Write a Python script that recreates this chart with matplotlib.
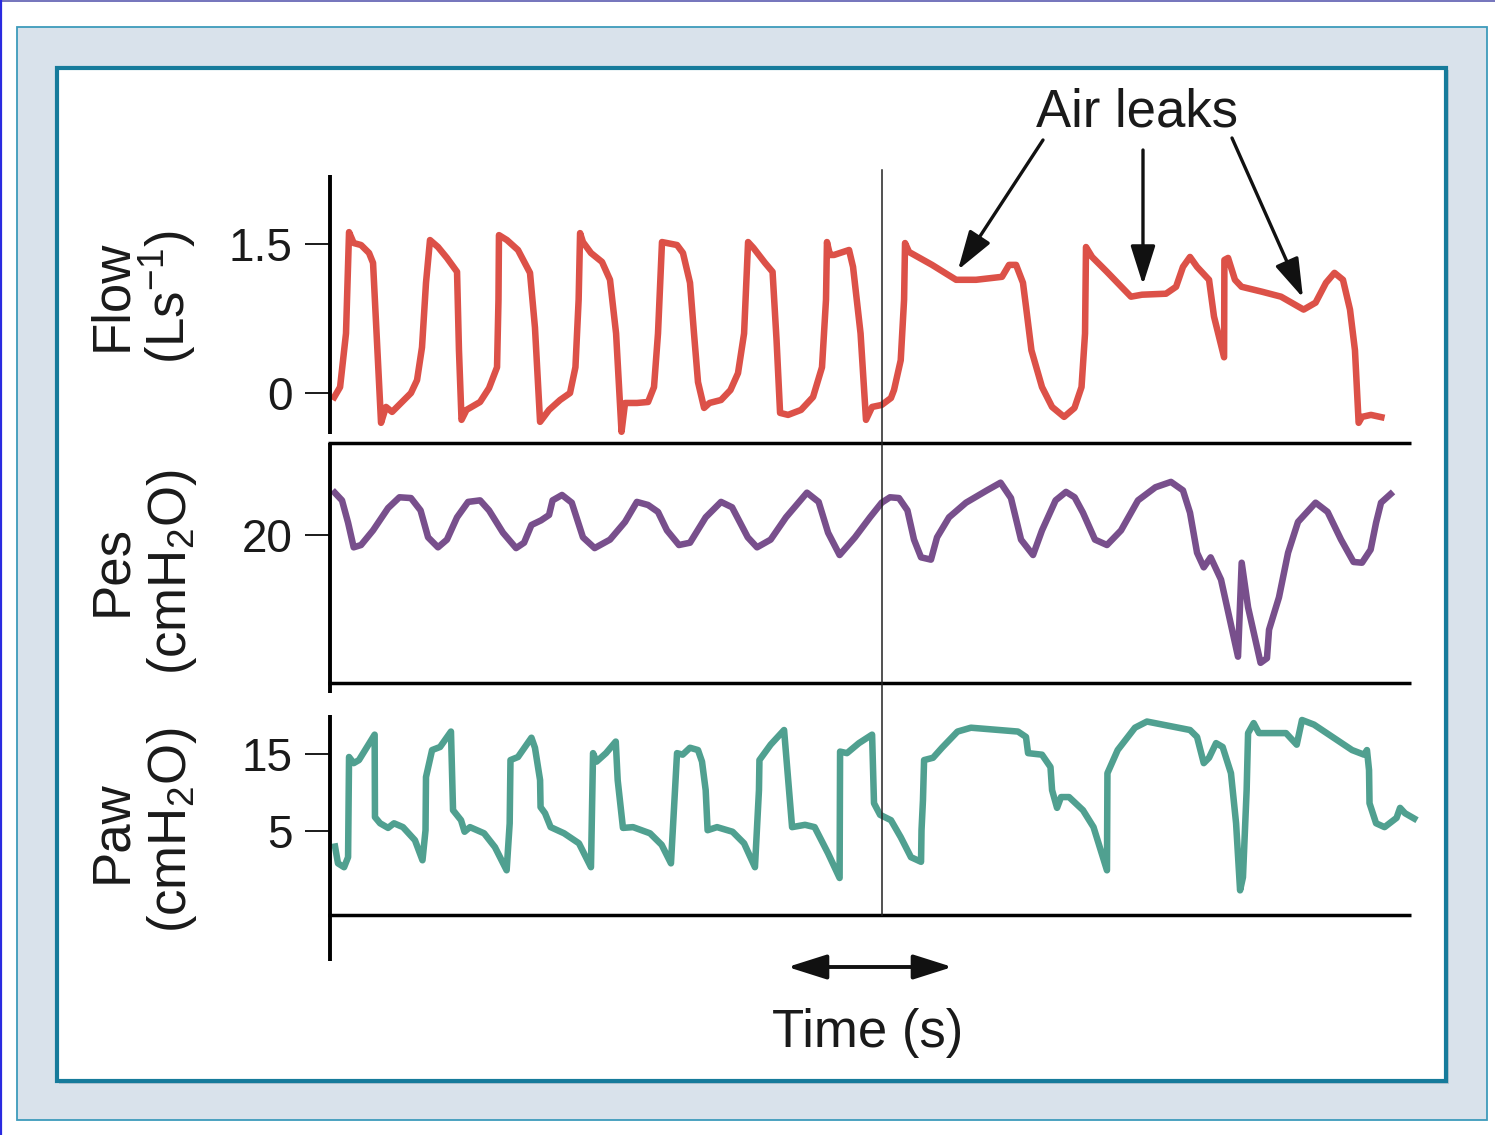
import matplotlib
matplotlib.use('Agg')
import matplotlib.pyplot as plt
from matplotlib.lines import Line2D
from matplotlib.patches import Rectangle
import matplotlib.transforms as mtransforms

plt.rcParams['font.family'] = ['Liberation Sans', 'DejaVu Sans']
plt.rcParams['mathtext.fontset'] = 'custom'
plt.rcParams['mathtext.rm'] = 'Liberation Sans'
plt.rcParams['mathtext.it'] = 'Liberation Sans:italic'
plt.rcParams['mathtext.bf'] = 'Liberation Sans:bold'
plt.rcParams['mathtext.default'] = 'regular'

# ---------------- data (time in s) ----------------
flow_t = [0.016, 0.063, 0.100, 0.119, 0.148, 0.194, 0.244, 0.269, 0.291, 0.319, 0.350, 0.388, 0.444, 0.506,
          0.544, 0.575, 0.600, 0.625, 0.675, 0.731, 0.794, 0.806, 0.822, 0.853, 0.938, 0.994, 1.044, 1.053,
          1.056, 1.106, 1.175, 1.250, 1.281, 1.313, 1.369, 1.438, 1.500, 1.534, 1.554, 1.563, 1.581, 1.631,
          1.700, 1.750, 1.788, 1.822, 1.844, 1.919, 1.988, 2.025, 2.050, 2.075, 2.106, 2.169, 2.206, 2.250,
          2.275, 2.300, 2.338, 2.372, 2.444, 2.503, 2.550, 2.588, 2.606, 2.613, 2.647, 2.719, 2.766, 2.791,
          2.813, 2.863, 2.944, 3.019, 3.075, 3.100, 3.106, 3.125, 3.150, 3.244, 3.269, 3.316, 3.350, 3.388,
          3.448, 3.506, 3.525, 3.567, 3.588, 3.594, 3.619, 3.763, 3.913, 4.038, 4.200, 4.244, 4.288, 4.331,
          4.350, 4.384, 4.450, 4.513, 4.588, 4.653, 4.697, 4.719, 4.725, 4.763, 4.856, 5.006, 5.075, 5.225,
          5.288, 5.331, 5.375, 5.419, 5.494, 5.525, 5.588, 5.590, 5.613, 5.656, 5.697, 5.825, 5.944, 6.085,
          6.160, 6.225, 6.278, 6.331, 6.375, 6.406, 6.429, 6.450, 6.506, 6.591]
flow_v = [-0.07, 0.06, 0.60, 1.62, 1.51, 1.49, 1.41, 1.31, 0.60, -0.30, -0.14, -0.19, -0.10, 0.00,
          0.13, 0.46, 1.11, 1.54, 1.47, 1.36, 1.22, 0.43, -0.27, -0.17, -0.09, 0.05, 0.26, 0.94,
          1.59, 1.54, 1.44, 1.21, 0.66, -0.29, -0.17, -0.07, 0.00, 0.26, 0.94, 1.61, 1.52, 1.41,
          1.32, 1.14, 0.60, -0.39, -0.10, -0.10, -0.09, 0.06, 0.60, 1.52, 1.51, 1.49, 1.41, 1.11,
          0.60, 0.11, -0.15, -0.10, -0.07, 0.03, 0.20, 0.60, 1.27, 1.52, 1.46, 1.31, 1.22, 0.53,
          -0.20, -0.22, -0.17, -0.04, 0.26, 0.94, 1.52, 1.39, 1.39, 1.44, 1.27, 0.60, -0.27, -0.14,
          -0.12, -0.05, 0.03, 0.33, 0.94, 1.51, 1.42, 1.29, 1.14, 1.14, 1.17, 1.29, 1.29, 1.11,
          0.87, 0.43, 0.06, -0.14, -0.24, -0.15, 0.06, 0.60, 1.47, 1.37, 1.22, 0.97, 0.99, 1.00,
          1.07, 1.27, 1.37, 1.27, 1.14, 0.77, 0.36, 1.34, 1.36, 1.14, 1.07, 1.02, 0.97, 0.84,
          0.91, 1.11, 1.21, 1.14, 0.84, 0.43, -0.30, -0.24, -0.22, -0.25]

pes_t = [0.016, 0.075, 0.113, 0.148, 0.194, 0.269, 0.363, 0.434, 0.506, 0.566, 0.613, 0.675, 0.731, 0.794,
         0.863, 0.938, 0.994, 1.081, 1.163, 1.213, 1.259, 1.319, 1.369, 1.391, 1.450, 1.511, 1.581, 1.654,
         1.750, 1.844, 1.918, 1.988, 2.050, 2.106, 2.181, 2.250, 2.348, 2.444, 2.513, 2.611, 2.669, 2.754,
         2.850, 2.981, 3.054, 3.113, 3.185, 3.281, 3.375, 3.448, 3.500, 3.556, 3.609, 3.650, 3.694, 3.756,
         3.794, 3.869, 3.975, 4.106, 4.191, 4.256, 4.319, 4.394, 4.450, 4.535, 4.600, 4.654, 4.706, 4.781,
         4.856, 4.944, 5.050, 5.159, 5.256, 5.331, 5.375, 5.419, 5.461, 5.504, 5.569, 5.675, 5.698, 5.738,
         5.816, 5.856, 5.869, 5.931, 5.988, 6.050, 6.160, 6.235, 6.319, 6.397, 6.450, 6.504, 6.538, 6.569,
         6.644]
pes_v = [25.8, 24.5, 21.6, 18.4, 18.7, 20.6, 23.5, 24.9, 24.8, 23.2, 19.7, 18.4, 19.4, 22.3,
         24.3, 24.5, 23.2, 20.3, 18.3, 19.0, 21.3, 21.9, 22.6, 24.5, 25.2, 24.2, 19.7, 18.3,
         19.4, 21.7, 24.3, 23.9, 23.0, 20.6, 18.7, 19.0, 22.3, 24.3, 23.6, 19.7, 18.4, 19.4,
         22.3, 25.5, 24.3, 20.3, 17.4, 19.7, 22.3, 24.2, 24.9, 24.8, 23.2, 19.4, 17.1, 16.8,
         19.7, 22.3, 24.2, 25.8, 26.8, 24.8, 19.4, 17.4, 20.6, 24.5, 25.6, 24.9, 22.9, 19.4,
         18.7, 20.6, 24.5, 26.2, 26.9, 25.8, 22.9, 17.7, 15.8, 17.1, 14.2, 4.2, 16.4, 10.6,
         3.4, 4.0, 7.7, 11.9, 17.7, 21.7, 24.2, 23.0, 19.4, 16.5, 16.4, 18.1, 21.6, 24.2,
         25.6]

paw_t = [0.028, 0.050, 0.088, 0.113, 0.119, 0.148, 0.181, 0.279, 0.281, 0.313, 0.363, 0.400, 0.456, 0.531,
         0.578, 0.597, 0.600, 0.638, 0.688, 0.756, 0.769, 0.819, 0.841, 0.875, 0.963, 1.031, 1.104, 1.123,
         1.128, 1.175, 1.259, 1.281, 1.313, 1.316, 1.344, 1.379, 1.463, 1.556, 1.631, 1.644, 1.666, 1.725,
         1.786, 1.798, 1.831, 1.894, 2.000, 2.073, 2.131, 2.169, 2.204, 2.250, 2.300, 2.325, 2.348, 2.360,
         2.419, 2.516, 2.588, 2.656, 2.681, 2.684, 2.754, 2.838, 2.888, 2.969, 3.029, 3.113, 3.185, 3.188,
         3.231, 3.306, 3.388, 3.400, 3.438, 3.506, 3.567, 3.631, 3.694, 3.697, 3.706, 3.713, 3.769, 3.825,
         3.922, 4.006, 4.300, 4.350, 4.363, 4.450, 4.503, 4.513, 4.544, 4.569, 4.619, 4.706, 4.772, 4.856,
         4.859, 4.923, 5.031, 5.106, 5.375, 5.419, 5.461, 5.494, 5.538, 5.579, 5.631, 5.663, 5.688, 5.706,
         5.729, 5.738, 5.773, 5.806, 5.975, 6.042, 6.075, 6.150, 6.388, 6.463, 6.481, 6.494, 6.497, 6.538,
         6.591, 6.666, 6.688, 6.719, 6.794]
paw_v = [3.4, 0.8, 0.3, 1.6, 14.6, 13.8, 14.2, 17.5, 6.8, 6.0, 5.4, 6.0, 5.5, 3.8,
         1.2, 5.1, 12.0, 15.5, 15.9, 17.9, 7.7, 6.4, 4.9, 5.5, 4.7, 2.9, -0.1, 6.0,
         14.2, 14.6, 17.1, 15.8, 11.6, 8.1, 7.3, 5.5, 4.7, 3.4, 0.3, 15.1, 14.0, 15.1,
         16.6, 11.6, 5.4, 5.5, 4.7, 3.2, 0.8, 15.1, 14.9, 15.8, 15.5, 14.0, 10.3, 5.1,
         5.5, 4.9, 3.4, 0.3, 10.3, 14.2, 16.2, 18.1, 5.5, 5.8, 5.5, 2.1, -1.1, 15.3,
         15.1, 16.4, 17.5, 8.6, 7.1, 6.4, 4.2, 1.6, 1.0, 5.1, 9.0, 14.2, 14.5, 15.8,
         17.9, 18.4, 17.9, 17.2, 15.1, 14.9, 13.3, 10.3, 8.0, 9.4, 9.4, 7.7, 5.5, -0.1,
         12.5, 15.5, 18.4, 19.2, 18.1, 17.2, 13.8, 14.5, 16.4, 15.9, 12.5, 6.0, -2.7, -1.0,
         10.3, 17.7, 19.0, 17.7, 17.7, 16.2, 19.4, 18.8, 15.5, 14.9, 15.5, 12.9, 8.6, 6.0,
         5.5, 6.7, 8.0, 7.3, 6.4]

flow_ticks, flow_ticklabels = [0, 1.5], ['0', '1.5']
pes_ticks, pes_ticklabels = [20], ['20']
paw_ticks, paw_ticklabels = [5, 15], ['5', '15']

marker_time = 3.45              # thin vertical reference line
scale_bar = (2.86, 3.89)        # time arrow
leak_targets_t = [3.925, 5.081, 6.081]
leak_targets_f = [1.24, 1.09, 0.96]

# ---------------- figure ----------------
W, H = 1495, 1135
fig = plt.figure(figsize=(W / 100, H / 100), dpi=100)
fig.patch.set_facecolor('white')


def fx(x):
    return x / W


def fy(y):
    return 1 - y / H


# slide edges
fig.add_artist(Line2D([0, 1], [fy(0.5), fy(0.5)], transform=fig.transFigure, color='#5c5cb0', lw=1.2))
fig.add_artist(Line2D([fx(1), fx(1)], [0, 1], transform=fig.transFigure, color='#2a2ae0', lw=1.6))

# outer frame
fig.add_artist(Rectangle((fx(17), fy(1120)), fx(1487) - fx(17), fy(27) - fy(1120),
                         transform=fig.transFigure, facecolor='#d9e2eb', edgecolor='#3d9bbb',
                         lw=1.3, zorder=-3))
# inner shadow + frame
fig.add_artist(Rectangle((fx(59), fy(1084)), fx(1449) - fx(59), fy(70) - fy(1084),
                         transform=fig.transFigure, facecolor='#b8c6d2', edgecolor='none', zorder=-2))
fig.add_artist(Rectangle((fx(57), fy(1081)), fx(1446) - fx(57), fy(68) - fy(1081),
                         transform=fig.transFigure, facecolor='white', edgecolor='#167b9b',
                         lw=3.0, zorder=-1))


def add_ax(top, bottom):
    ax = fig.add_axes([fx(330), fy(bottom), fx(1410) - fx(330), fy(top) - fy(bottom)])
    ax.set_facecolor('none')
    ax.set_zorder(1)
    for s in ax.spines.values():
        s.set_visible(False)
    ax.set_xlim(0, 6.75)
    ax.set_xticks([])
    ax.tick_params(axis='y', length=18, width=1.4, pad=9, labelsize=33, colors='#1a1a1a')
    return ax


ax_flow = add_ax(175, 443)
ax_pes = add_ax(443, 683)
ax_paw = add_ax(683, 915)

ax_flow.set_ylim(-0.503, 2.195)
ax_pes.set_ylim(0.78, 31.95)
ax_paw.set_ylim(-5.9, 24.2)

ax_flow.set_yticks(flow_ticks, flow_ticklabels)
ax_pes.set_yticks(pes_ticks, pes_ticklabels)
ax_paw.set_yticks(paw_ticks, paw_ticklabels)

lkw = dict(lw=4.7, solid_joinstyle='round', solid_capstyle='butt', clip_on=False, zorder=3)
ax_flow.plot(flow_t, flow_v, color='#dc5148', **lkw)
ax_pes.plot(pes_t, pes_v, color='#784f8c', **lkw)
ax_paw.plot(paw_t, paw_v, color='#50a090', **lkw)


# structural axis lines
def fline(x0, y0, x1, y1, lw, color='black'):
    fig.add_artist(Line2D([fx(x0), fx(x1)], [fy(y0), fy(y1)], transform=fig.transFigure,
                          color=color, lw=lw, solid_capstyle='butt', zorder=4))


fline(330, 175, 330, 434, 2.8)
fline(330, 443, 330, 693, 2.8)
fline(330, 715, 330, 961, 2.8)
for yy in (443, 683, 915):
    fline(328, yy, 1411, yy, 2.5)

# vertical reference line
vtrans = mtransforms.blended_transform_factory(ax_flow.transData, fig.transFigure)
fig.add_artist(Line2D([marker_time, marker_time], [fy(170), fy(915)], transform=vtrans,
                      color='#222222', lw=1.1, zorder=4))

# time arrow
ax_paw.annotate('', xy=(scale_bar[1], fy(967)), xycoords=vtrans,
                xytext=(scale_bar[0], fy(967)), textcoords=vtrans,
                arrowprops=dict(arrowstyle='<|-|>,head_length=1.2,head_width=0.38',
                                mutation_scale=20, color='#111111', lw=2.8,
                                shrinkA=0, shrinkB=0), annotation_clip=False)
fig.text(fx(868), fy(1033), 'Time (s)', ha='center', va='center', fontsize=38, color='#1a1a1a')

# air leak annotation
fig.text(fx(1137), fy(112), 'Air leaks', ha='center', va='center', fontsize=38, color='#1a1a1a')
tails = [(1043, 140), (1143, 150), (1232, 138)]
for (tx, ty), t, f in zip(tails, leak_targets_t, leak_targets_f):
    ax_flow.annotate('', xy=(t, f), xycoords='data',
                     xytext=(fx(tx), fy(ty)), textcoords='figure fraction',
                     arrowprops=dict(arrowstyle='-|>,head_length=1.2,head_width=0.38',
                                     mutation_scale=20, color='#111111', lw=2.4,
                                     shrinkA=0, shrinkB=0), annotation_clip=False)

# y-axis labels
lab = dict(rotation=90, ha='center', va='center', fontsize=38, color='#1a1a1a')
fig.text(fx(112), fy(295), 'Flow', **lab)
fig.text(fx(168), fy(297), '(Ls$^{-1}$)', **lab)
fig.text(fx(112), fy(570), 'Pes', **lab)
fig.text(fx(172), fy(572), '(cmH$_2$O)', **lab)
fig.text(fx(112), fy(832), 'Paw', **lab)
fig.text(fx(172), fy(830), '(cmH$_2$O)', **lab)

fig.savefig('out.png', dpi=100)
